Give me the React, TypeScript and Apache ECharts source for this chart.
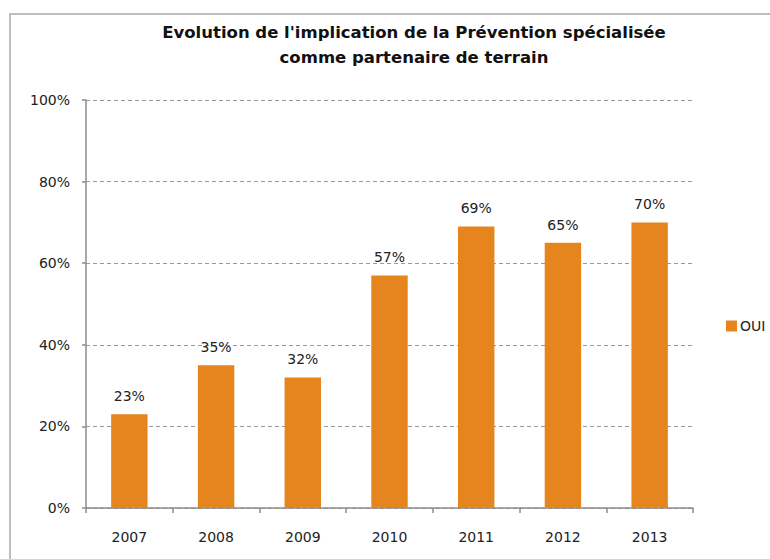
import React, { useEffect, useRef } from "react";
import * as echarts from "echarts";

const years = ["2007", "2008", "2009", "2010", "2011", "2012", "2013"];
const oui = [23, 35, 32, 57, 69, 65, 70];
const yTicks = [0, 20, 40, 60, 80, 100];
const titleLines = [
  "Evolution de l'implication de la Prévention spécialisée",
  "comme partenaire de terrain",
];
const seriesName = "OUI";

const ORANGE = "#E6841E";
const LABEL_FONT = "'DejaVu Sans', sans-serif";
const TEXT = "#222222";
const AXIS = "#8c8c8c";

export default function App() {
  const ref = useRef<HTMLDivElement>(null);

  useEffect(() => {
    if (!ref.current) return;
    const chart = echarts.init(ref.current, undefined, { renderer: "svg" });
    chart.setOption({
      animation: false,
      backgroundColor: "#ffffff",
      title: {
        text: titleLines.join("\n"),
        left: 414,
        textAlign: "center",
        top: 20,
        padding: 0,
        textStyle: {
          fontFamily: "'DejaVu Sans', sans-serif",
          fontWeight: "bold",
          fontSize: 16.5,
          lineHeight: 25,
          color: "#111111",
        },
      },
      graphic: [
        {
          type: "rect",
          shape: { x: 10, y: 14, width: 800, height: 600 },
          style: { fill: "none", stroke: "#a8a8a8", lineWidth: 1.5 },
          silent: true,
        },
      ],
      legend: {
        data: [seriesName],
        orient: "vertical",
        left: 721,
        top: 314,
        itemWidth: 11,
        itemHeight: 11,
        itemGap: 4,
        icon: "rect",
        textStyle: {
          fontFamily: LABEL_FONT,
          fontSize: 14,
          color: TEXT,
          padding: [0, 0, 0, -2],
        },
      },
      grid: { left: 86, right: 77, top: 100, bottom: 51 },
      xAxis: {
        type: "category",
        data: years,
        axisLine: { lineStyle: { color: AXIS, width: 1.5 } },
        axisTick: {
          show: true,
          length: 5,
          alignWithLabel: false,
          lineStyle: { color: AXIS, width: 1.5 },
        },
        axisLabel: {
          margin: 22,
          fontFamily: LABEL_FONT,
          fontSize: 14,
          color: TEXT,
        },
      },
      yAxis: {
        type: "value",
        min: yTicks[0],
        max: yTicks[yTicks.length - 1],
        interval: 20,
        axisLine: { show: true, lineStyle: { color: AXIS, width: 1.5 } },
        axisTick: {
          show: true,
          length: 4,
          lineStyle: { color: AXIS, width: 1.5 },
        },
        axisLabel: {
          margin: 16,
          formatter: "{value}%",
          fontFamily: LABEL_FONT,
          fontSize: 14,
          color: TEXT,
        },
        splitLine: {
          show: true,
          lineStyle: { color: "#9a9a9a", type: [4, 3], width: 1.2 },
        },
      },
      series: [
        {
          name: seriesName,
          type: "bar",
          data: oui,
          barWidth: "42%",
          itemStyle: { color: ORANGE },
          label: {
            show: true,
            position: "top",
            distance: 11,
            formatter: "{c}%",
            fontFamily: LABEL_FONT,
            fontSize: 14,
            color: TEXT,
          },
        },
      ],
    });
    return () => chart.dispose();
  }, []);

  return (
    <div
      ref={ref}
      style={{ position: "absolute", left: 0, top: 0, width: 770, height: 559 }}
    />
  );
}
